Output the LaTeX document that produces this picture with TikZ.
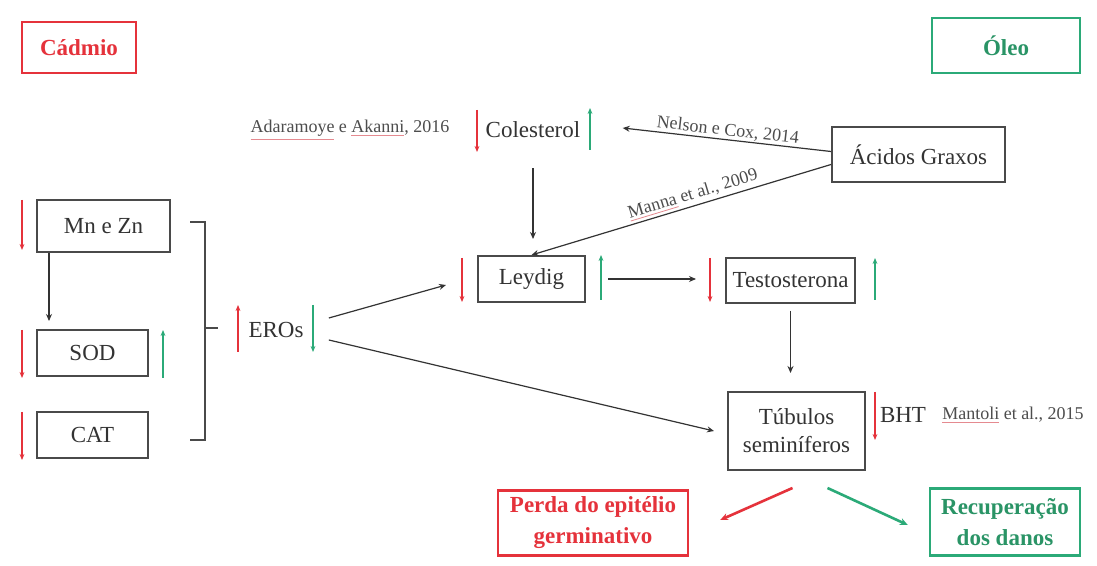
\documentclass[tikz,border=0pt]{standalone}
\usepackage{fontspec}
\setmainfont{Liberation Serif}
\usepackage{xcolor}
\usetikzlibrary{arrows.meta,calc}
\definecolor{rd}{HTML}{E5323B}
\definecolor{gn}{HTML}{2BAA78}
\definecolor{gnD}{HTML}{2A9466}
\definecolor{edge}{HTML}{4A4A4A}
\definecolor{ink}{HTML}{333333}
\definecolor{cite}{HTML}{4D4D4D}
\definecolor{spell}{HTML}{E58A90}
\newcommand{\spellerr}[1]{\textcolor{spell}{\underline{\textcolor{cite}{#1}}}}
\tikzset{
  box/.style={draw=edge, line width=1pt, inner sep=0pt, text=ink, align=center,
    font=\fontsize{11.5}{14}\selectfont},
  boxR/.style={draw=rd, line width=1.2pt, inner sep=0pt, text=rd, align=center,
    font=\fontsize{11.5}{15.5}\selectfont\bfseries},
  boxG/.style={draw=gn, line width=1.2pt, inner sep=0pt, text=gnD, align=center,
    font=\fontsize{11.5}{15.5}\selectfont\bfseries},
  lab/.style={text=ink, inner sep=1pt, font=\fontsize{11.5}{14}\selectfont},
  cit/.style={text=cite, inner sep=1pt, font=\fontsize{9}{10}\selectfont},
  conn/.style={-{Stealth[length=3.5pt,width=3pt]}, line width=0.6pt, draw=ink},
  dnR/.style={-{Stealth[length=3pt,width=2.4pt]}, line width=1pt, draw=rd},
  upG/.style={-{Stealth[length=3pt,width=2.4pt]}, line width=1pt, draw=gn},
  outR/.style={-{Stealth[length=4pt,width=3.5pt]}, line width=1.3pt, draw=rd},
  outG/.style={-{Stealth[length=4pt,width=3.5pt]}, line width=1.3pt, draw=gn}
}
\begin{document}
\begin{tikzpicture}[x=0.5pt,y=-0.5pt]
  \useasboundingbox[fill=white] (0,0) rectangle (1097,566);

  % titles
  \node[boxR, minimum width=57pt, minimum height=25.5pt] (cad) at (79,47.5) {Cádmio};
  \node[boxG, minimum width=74pt, minimum height=27.5pt] (oleo) at (1006,45.5) {Óleo};

  % boxes
  \node[box, minimum width=86.5pt, minimum height=27.5pt] (aci) at (918.5,154.5) {Ácidos Graxos};
  \node[box, minimum width=66.5pt, minimum height=26pt] (mn) at (103.5,226) {Mn e Zn};
  \node[box, minimum width=55.5pt, minimum height=23pt] (sod) at (92.5,353) {SOD};
  \node[box, minimum width=55.5pt, minimum height=23pt] (cat) at (92.5,435) {CAT};
  \node[box, minimum width=53.5pt, minimum height=23pt] (ley) at (531.5,279) {Leydig};
  \node[box, minimum width=64.5pt, minimum height=22.5pt] (tes) at (790.5,280.5) {Testosterona};
  \node[box, minimum width=68.5pt, minimum height=39pt] (tub) at (796.5,431) {Túbulos\\seminíferos};
  \node[boxR, minimum width=95pt, minimum height=32.5pt] (per) at (593,523) {Perda do epitélio\\germinativo};
  \node[boxG, minimum width=75pt, minimum height=33.5pt] (rec) at (1005,522) {Recuperação\\dos danos};

  % free labels
  \node[lab] (col) at (533,130) {Colesterol};
  \node[lab] (eros) at (276,330) {EROs};
  \node[lab] (bht) at (903,415) {BHT};
  \node[cit] (ada) at (350,130) {\spellerr{Adaramoye} e \spellerr{Akanni}, 2016};
  \node[cit] (man) at (1013,415) {\spellerr{Mantoli} et al., 2015};

  % up / down markers
  \foreach \x/\ya/\yb in {477/110/152, 22/200/250, 22/330/378, 22/412/460,
      462/258/302, 710/258/302, 875/392/440}
    \draw[dnR] (\x,\ya) -- (\x,\yb);
  \foreach \x/\ya/\yb in {590/150/108, 163/378/330, 601/300/255, 875/300/258}
    \draw[upG] (\x,\ya) -- (\x,\yb);
  \draw[upG, draw=rd] (238,352) -- (238,305);
  \draw[dnR, draw=gn] (313,305) -- (313,352);

  % bracket
  \coordinate (bt) at (190,222);
  \coordinate (bb) at (190,440);
  \draw[draw=edge, line width=0.6pt] (bt) -- ++(15,0) |- (bb);
  \draw[draw=edge, line width=0.6pt] (205,328) -- (218,328);

  % connectors
  \draw[conn] ([yshift=1.5pt]aci.west) -- ([shift={(40,-2)}]col.east)
    node[cit, midway, sloped, above, inner sep=0.5pt] {Nelson e Cox, 2014};
  \draw[conn] ([yshift=-5pt]aci.west) -- (ley.north)
    node[cit, pos=0.45, sloped, above, inner sep=1pt] {\spellerr{Manna} et al., 2009};
  \draw[conn] ([yshift=-14pt]col.south) -- ([yshift=8pt]col.south |- ley.north);
  \draw[conn] ([xshift=6.5pt]mn.south west) -- ([shift={(13,-8)}]sod.north west);
  \draw[conn] ([shift={(23,-12)}]eros.east) -- ([shift={(-31,6)}]ley.west);
  \draw[conn] ([shift={(23,10)}]eros.east) -- ([xshift=-6.5pt]tub.west);
  \draw[conn] ([xshift=11pt]ley.east) -- ([xshift=-14.5pt]ley.east -| tes.west);
  \draw[conn] ([yshift=-3.5pt]tes.south) -- ([yshift=9pt]tes.south |- tub.north);

  % outcomes
  \draw[outR] ([shift={(-4,17)}]tub.south) -- ([shift={(31,-3)}]per.east);
  \draw[outG] ([shift={(31,17)}]tub.south) -- ([shift={(-21,3)}]rec.west);
\end{tikzpicture}
\end{document}
